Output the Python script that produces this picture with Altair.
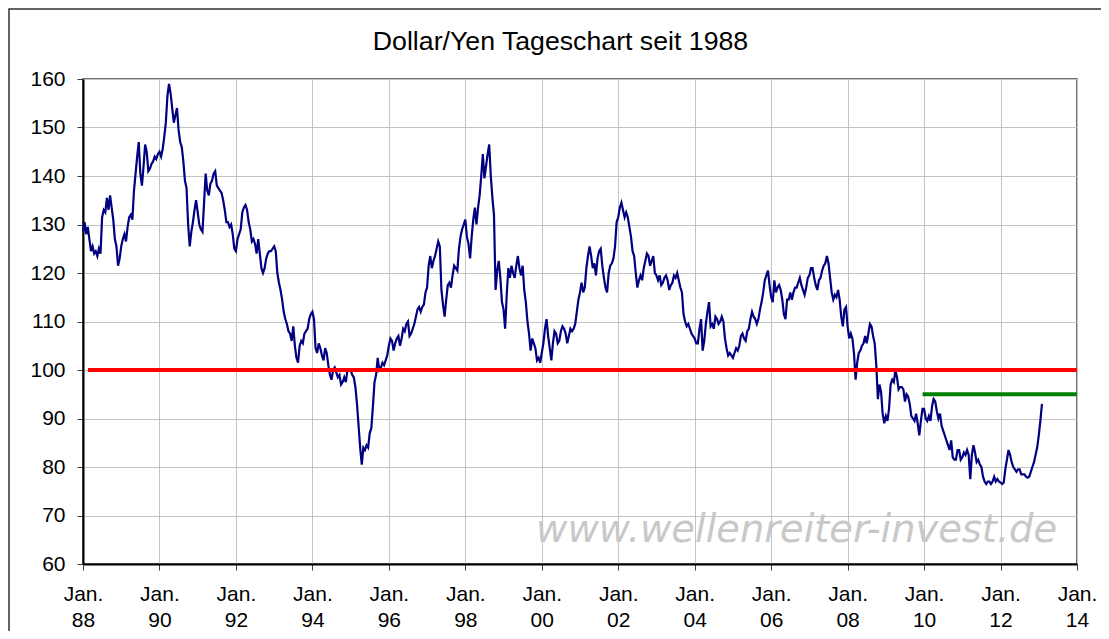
import altair as alt
import pandas as pd

# Dollar/Yen, half-monthly readings (1st and 16th of each month)
Y1988 = [128.5, 130.5, 128.0, 129.5, 127.0, 124.5, 125.5, 124.0, 124.5, 123.5, 125.0, 124.0,
         131.5, 133.0, 132.5, 135.5, 133.0, 136.0, 133.5, 131.0, 127.0, 125.5, 121.5, 123.0]
Y1989 = [125.5, 127.0, 128.0, 126.5, 129.5, 131.5, 132.0, 131.0, 137.0, 140.5, 144.0, 147.0,
         140.5, 138.0, 142.0, 146.5, 145.0, 141.0, 141.5, 142.5, 143.0, 144.0, 143.5, 144.5]
Y1990 = [145.0, 144.0, 145.5, 148.0, 151.0, 156.5, 159.0, 157.0, 154.0, 151.0, 152.5, 154.0,
         149.5, 147.0, 146.0, 143.0, 139.0, 137.5, 130.0, 125.5, 128.5, 130.5, 133.0, 135.0]
Y1991 = [132.5, 130.0, 129.0, 128.5, 134.5, 140.5, 137.0, 136.0, 138.5, 139.0, 140.5, 141.0,
         138.0, 137.5, 137.0, 136.5, 135.0, 133.0, 130.5, 130.5, 129.5, 130.0, 128.0, 125.0]
Y1992 = [124.5, 127.0, 128.0, 129.0, 132.5, 133.5, 134.0, 133.0, 130.5, 129.0, 126.5, 127.0,
         126.0, 124.0, 127.0, 124.0, 121.0, 120.0, 121.0, 123.0, 124.0, 124.5, 124.5, 125.0]
Y1993 = [125.5, 124.5, 120.0, 118.0, 116.5, 114.5, 112.0, 110.5, 109.5, 108.0, 107.5, 106.0,
         109.0, 105.0, 102.5, 101.5, 105.0, 106.0, 105.5, 107.5, 108.0, 108.5, 110.5, 111.5]
Y1994 = [112.0, 110.5, 104.5, 103.5, 105.5, 104.5, 103.0, 102.0, 104.5, 103.5, 101.0, 99.0,
         98.0, 100.0, 100.5, 99.5, 98.5, 99.0, 97.0, 97.5, 98.5, 97.5, 100.0, 100.0]
Y1995 = [100.0, 99.0, 98.5, 96.5, 93.0, 88.5, 84.0, 80.5, 84.0, 83.5, 84.5, 84.0,
         87.0, 88.0, 92.5, 97.5, 99.0, 102.5, 100.0, 100.5, 101.5, 101.0, 102.0, 103.0]
Y1996 = [105.0, 106.5, 106.0, 104.0, 105.5, 106.5, 107.0, 105.0, 106.5, 108.5, 108.0, 109.5,
         110.0, 107.0, 107.5, 108.5, 109.5, 111.0, 112.5, 113.0, 112.0, 113.0, 113.5, 116.0]
Y1997 = [117.0, 121.5, 123.5, 121.0, 122.5, 123.5, 125.0, 126.5, 125.5, 116.5, 113.5, 111.0,
         114.5, 117.5, 118.0, 117.0, 119.5, 121.5, 121.0, 120.5, 125.0, 127.5, 129.0, 130.0]
Y1998 = [131.0, 127.5, 126.0, 123.0, 127.5, 131.0, 133.5, 130.0, 133.5, 136.0, 140.0, 144.5,
         139.5, 142.0, 144.5, 146.5, 140.0, 135.5, 132.0, 116.5, 120.5, 122.5, 119.0, 114.0]
Y1999 = [112.5, 108.5, 115.5, 121.0, 119.0, 121.5, 120.0, 119.0, 121.5, 123.5, 121.0, 119.5,
         121.5, 116.5, 114.0, 110.0, 107.5, 104.0, 106.5, 105.5, 104.5, 102.0, 102.5, 101.5]
Y2000 = [103.5, 105.5, 108.5, 110.5, 107.0, 104.5, 102.0, 105.5, 108.0, 107.5, 105.5, 106.0,
         108.0, 109.0, 108.5, 107.5, 105.5, 107.0, 108.5, 108.0, 108.5, 109.5, 112.0, 114.5]
Y2001 = [116.0, 118.0, 116.0, 117.0, 121.0, 123.5, 125.5, 123.5, 121.0, 122.0, 119.5, 123.0,
         124.5, 125.0, 121.5, 119.0, 117.0, 116.0, 120.0, 121.5, 122.0, 123.0, 125.5, 130.5]
Y2002 = [131.5, 133.5, 134.5, 133.0, 131.5, 132.5, 131.5, 129.5, 127.5, 124.5, 123.5, 120.0,
         117.0, 118.5, 119.5, 118.5, 121.0, 122.5, 124.0, 123.5, 121.5, 122.5, 123.5, 120.0]
Y2003 = [119.5, 118.5, 119.5, 117.5, 118.0, 119.0, 119.5, 118.5, 116.5, 117.5, 118.0, 119.5,
         119.0, 120.0, 118.5, 117.0, 116.0, 111.5, 110.0, 109.0, 109.5, 108.5, 107.5, 107.0]
Y2004 = [106.5, 105.5, 105.5, 108.5, 110.5, 104.0, 106.0, 109.5, 112.0, 114.0, 109.0, 109.5,
         108.5, 111.0, 110.5, 109.5, 110.0, 111.0, 110.0, 106.5, 104.5, 103.0, 103.5, 103.0]
Y2005 = [102.5, 103.5, 104.5, 104.0, 105.0, 107.0, 107.5, 106.5, 106.0, 108.0, 108.5, 110.5,
         112.0, 111.0, 110.5, 109.5, 110.5, 112.5, 114.0, 116.0, 118.5, 119.5, 120.5, 117.5]
Y2006 = [115.0, 114.0, 118.5, 116.0, 117.0, 117.5, 116.5, 114.5, 111.5, 110.5, 114.5, 114.5,
         116.0, 114.5, 116.0, 117.0, 117.0, 118.0, 119.0, 117.5, 116.5, 115.5, 117.0, 119.0]
Y2007 = [119.5, 121.0, 121.0, 119.0, 117.5, 116.5, 118.5, 119.0, 120.5, 121.5, 122.0, 123.5,
         122.0, 119.0, 116.0, 114.5, 115.5, 115.0, 116.5, 114.5, 111.0, 109.0, 112.5, 113.0]
Y2008 = [109.0, 106.5, 107.5, 106.5, 103.5, 98.0, 101.5, 103.5, 104.0, 105.0, 105.5, 107.0,
         105.5, 107.5, 109.5, 109.0, 107.0, 105.5, 101.0, 94.0, 97.0, 95.5, 91.0, 89.0]
Y2009 = [90.5, 89.5, 92.0, 97.0, 98.0, 97.5, 100.0, 98.5, 96.0, 96.5, 96.5, 96.0,
         93.5, 95.0, 94.5, 93.0, 90.5, 90.0, 89.5, 91.0, 89.0, 86.5, 89.5, 92.0]
Y2010 = [92.0, 90.0, 89.5, 90.5, 89.5, 92.5, 94.0, 93.5, 91.5, 90.0, 91.0, 88.5,
         87.5, 86.5, 85.5, 84.5, 83.5, 85.5, 82.0, 81.5, 81.5, 83.5, 83.5, 81.5]
Y2011 = [82.0, 83.0, 82.5, 83.5, 82.5, 77.5, 82.5, 84.5, 83.0, 81.0, 81.5, 80.5,
         80.0, 78.0, 77.0, 76.5, 77.0, 77.0, 76.5, 77.0, 78.0, 77.0, 77.5, 77.0]
Y2012 = [76.8, 76.5, 76.8, 79.5, 81.5, 83.5, 82.5, 81.0, 80.0, 79.5, 79.0, 79.5,
         79.5, 78.5, 78.5, 78.5, 78.0, 77.8, 78.0, 79.0, 80.0, 81.0, 82.5, 84.0]
Y2013 = [86.5, 89.5, 93.0]

SERIES = {1988: Y1988, 1989: Y1989, 1990: Y1990, 1991: Y1991, 1992: Y1992, 1993: Y1993,
          1994: Y1994, 1995: Y1995, 1996: Y1996, 1997: Y1997, 1998: Y1998, 1999: Y1999,
          2000: Y2000, 2001: Y2001, 2002: Y2002, 2003: Y2003, 2004: Y2004, 2005: Y2005,
          2006: Y2006, 2007: Y2007, 2008: Y2008, 2009: Y2009, 2010: Y2010, 2011: Y2011,
          2012: Y2012, 2013: Y2013}

# Horizontal reference levels
LEVEL_VALUES = [100, 95]
LEVEL_START = [1988.13, 2009.96]
LEVEL_END = [2014.0, 2014.0]
LEVEL_COLORS = ["#ff0000", "#008000"]

X_TICKS = list(range(1988, 2015, 2))
Y_TICKS = list(range(60, 161, 10))

rows = []
for yr, vals in SERIES.items():
    for i, v in enumerate(vals):
        rows.append({"t": yr + i / 24.0, "kurs": v})
df = pd.DataFrame(rows)

levels = pd.DataFrame({"start": LEVEL_START, "end": LEVEL_END,
                       "level": LEVEL_VALUES, "color": LEVEL_COLORS})

W, H = 994, 485
FONT = "Liberation Sans"

xscale = alt.Scale(domain=[1988, 2014], nice=False, zero=False)
yscale = alt.Scale(domain=[60, 160], nice=False, zero=False)

xaxis = alt.Axis(values=X_TICKS, title=None,
                 labelExpr="['Jan.', (datum.value % 100 < 10 ? '0' : '') + (datum.value % 100)]",
                 labelFont=FONT, labelFontSize=21, labelColor="#000000",
                 labelLineHeight=26, labelPadding=13, labelAlign="center",
                 labelBaseline="top", labelFlush=False, labelOverlap=False,
                 tickSize=6, tickColor="#404040", tickWidth=1,
                 domainColor="#000000", domainWidth=2,
                 grid=True, gridColor="#c4c4c4", gridWidth=1)
yaxis = alt.Axis(values=Y_TICKS, title=None,
                 labelFont=FONT, labelFontSize=21, labelColor="#000000",
                 labelPadding=12, labelFlush=False, labelOverlap=False,
                 tickSize=6, tickColor="#404040", tickWidth=1,
                 domainColor="#000000", domainWidth=2,
                 grid=True, gridColor="#c4c4c4", gridWidth=1)

frame = alt.Chart(pd.DataFrame({"a": [0]})).mark_rect(
    fillOpacity=0, stroke="#303030", strokeWidth=1.5
).encode(x=alt.value(-74), x2=alt.value(1100), y=alt.value(-70), y2=alt.value(700))

watermark = alt.Chart(pd.DataFrame({"a": [0]})).mark_text(
    text="www.wellenreiter-invest.de", font="DejaVu Sans", fontSize=38.4,
    fontStyle="italic", color="#c8c8c8", align="left", baseline="alphabetic"
).encode(x=alt.value(453), y=alt.value(463))

line = alt.Chart(df).mark_line(color="#000080", strokeWidth=2.2).encode(
    x=alt.X("t:Q", scale=xscale, axis=xaxis),
    y=alt.Y("kurs:Q", scale=yscale, axis=yaxis),
)

rules = alt.Chart(levels).mark_rule(strokeWidth=4).encode(
    x=alt.X("start:Q", scale=xscale, title=None),
    x2="end:Q",
    y=alt.Y("level:Q", scale=yscale, title=None),
    color=alt.Color("color:N", scale=None),
)

title = alt.Chart(pd.DataFrame({"a": [0]})).mark_text(
    text="Dollar/Yen Tageschart seit 1988", font=FONT, fontSize=26.7,
    color="#000000", align="center", baseline="alphabetic"
).encode(x=alt.value(477.5), y=alt.value(-29))

chart = alt.layer(frame, watermark, line, rules, title).properties(
    width=W, height=H,
    autosize=alt.AutoSizeParams(type="none"),
    padding={"left": 75, "top": 71, "right": 24, "bottom": 67},
    background="#ffffff",
).configure_view(stroke="#404040", strokeWidth=1.5)

chart.save("out.html", embed_options={"renderer": "svg", "actions": False})
